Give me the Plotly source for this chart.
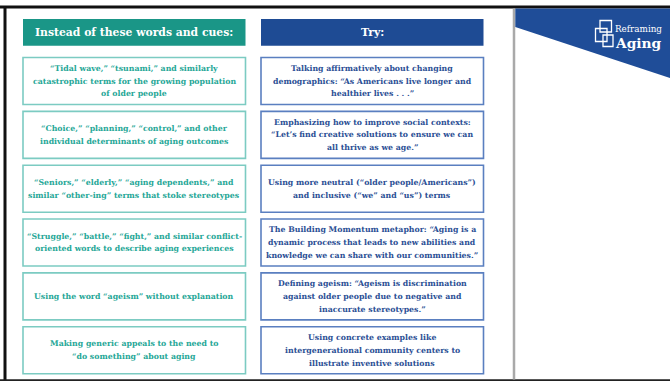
import plotly.graph_objects as go

# ---- content ----
header_left = "Instead of these words and cues:"
header_right = "Try:"
left_items = [
    ["\u201cTidal wave,\u201d \u201ctsunami,\u201d and similarly",
     "catastrophic terms for the growing population",
     "of older people"],
    ["\u201cChoice,\u201d \u201cplanning,\u201d \u201ccontrol,\u201d and other",
     "individual determinants of aging outcomes"],
    ["\u201cSeniors,\u201d \u201celderly,\u201d \u201caging dependents,\u201d and",
     "similar \u201cother-ing\u201d terms that stoke stereotypes"],
    ["\u201cStruggle,\u201d \u201cbattle,\u201d \u201cfight,\u201d and similar conflict-",
     "oriented words to describe aging experiences"],
    ["Using the word \u201cageism\u201d without explanation"],
    ["Making generic appeals to the need to",
     "\u201cdo something\u201d about aging"],
]
right_items = [
    ["Talking affirmatively about changing",
     "demographics: \u201cAs Americans live longer and",
     "healthier lives . . .\u201d"],
    ["Emphasizing how to improve social contexts:",
     "\u201cLet\u2019s find creative solutions to ensure we can",
     "all thrive as we age.\u201d"],
    ["Using more neutral (\u201colder people/Americans\u201d)",
     "and inclusive (\u201cwe\u201d and \u201cus\u201d) terms"],
    ["The Building Momentum metaphor: \u201cAging is a",
     "dynamic process that leads to new abilities and",
     "knowledge we can share with our communities.\u201d"],
    ["Defining ageism: \u201cAgeism is discrimination",
     "against older people due to negative and",
     "inaccurate stereotypes.\u201d"],
    ["Using concrete examples like",
     "intergenerational community centers to",
     "illustrate inventive solutions"],
]
logo_top = "Reframing"
logo_bottom = "Aging"

# ---- styling / layout constants ----
W, H = 670, 381
TEAL = "#1a9687"
TEAL_BORDER = "#7ccbc2"
TEAL_TEXT = "#26a797"
BLUE = "#1e4b94"
BLUE_BORDER = "#5a7fc0"
BLUE_TEXT = "#2b4f95"
FONT = "DejaVu Serif"

LX0, LX1 = 23, 245.5
RX0, RX1 = 261, 483.5
HY0, HY1 = 19, 45.7
BOX_TOP0 = 57.5
BOX_STEP = 53.85
BOX_H = 47
LINE_GAP = 12.8

shapes = []
annotations = []

# outer slide border
shapes.append(dict(type="line", x0=0, x1=W, y0=7, y1=7, line=dict(color="#111111", width=3)))
shapes.append(dict(type="line", x0=5, x1=5, y0=6, y1=H, line=dict(color="#111111", width=3)))
shapes.append(dict(type="line", x0=0, x1=W, y0=380.3, y1=380.3, line=dict(color="#222222", width=2)))
shapes.append(dict(type="line", x0=514, x1=514, y0=8.5, y1=379.5, line=dict(color="#a9a9a9", width=2.5)))

# blue triangle corner
shapes.append(dict(type="path", path="M 515.3 8.5 L 670 8.5 L 670 78 L 515.3 27 Z",
                   fillcolor="#1f4d98", line=dict(width=0)))

# logo icon squares
for (a, b, c, d) in [(600, 20.5, 611.5, 32), (595.5, 28.5, 607, 41.5), (603, 35, 613, 46.5)]:
    shapes.append(dict(type="rect", x0=a, x1=c, y0=b, y1=d,
                       line=dict(color="white", width=1.3), fillcolor="rgba(0,0,0,0)"))
annotations.append(dict(x=613, y=28.5, text=logo_top, showarrow=False, xanchor="left", yanchor="middle",
                        font=dict(family=FONT, size=8.8, color="white")))
annotations.append(dict(x=612.5, y=42.5, text=logo_bottom, showarrow=False, xanchor="left", yanchor="middle",
                        font=dict(family=FONT, size=13.8, color="white", weight="bold")))

# headers
shapes.append(dict(type="rect", x0=LX0, x1=LX1, y0=HY0, y1=HY1, fillcolor=TEAL, line=dict(width=0)))
shapes.append(dict(type="rect", x0=RX0, x1=RX1, y0=HY0, y1=HY1, fillcolor=BLUE, line=dict(width=0)))
annotations.append(dict(x=(LX0 + LX1) / 2, y=(HY0 + HY1) / 2 + 0.5, text=header_left, showarrow=False,
                        font=dict(family=FONT, size=10.8, color="white", weight="bold")))
annotations.append(dict(x=(RX0 + RX1) / 2, y=(HY0 + HY1) / 2 + 0.5, text=header_right, showarrow=False,
                        font=dict(family=FONT, size=10.8, color="white", weight="bold")))


def add_column(items, x0, x1, border, color):
    for i, lines in enumerate(items):
        top = BOX_TOP0 + i * BOX_STEP
        shapes.append(dict(type="rect", x0=x0, x1=x1, y0=top, y1=top + BOX_H,
                           line=dict(color=border, width=1.6), fillcolor="white"))
        cy = top + BOX_H / 2
        n = len(lines)
        for j, t in enumerate(lines):
            y = cy + (j - (n - 1) / 2) * LINE_GAP
            annotations.append(dict(x=(x0 + x1) / 2, y=y, text=t, showarrow=False,
                                    xanchor="center", yanchor="middle",
                                    font=dict(family=FONT, size=7.8, color=color, weight="bold")))


add_column(left_items, LX0, LX1, TEAL_BORDER, TEAL_TEXT)
add_column(right_items, RX0, RX1, BLUE_BORDER, BLUE_TEXT)

for a in annotations:
    a.setdefault("xref", "x")
    a.setdefault("yref", "y")
for s in shapes:
    s.setdefault("xref", "x")
    s.setdefault("yref", "y")
    s.setdefault("layer", "above")

fig = go.Figure()
fig.update_layout(
    width=W, height=H,
    margin=dict(l=0, r=0, t=0, b=0, pad=0),
    paper_bgcolor="white", plot_bgcolor="white",
    xaxis=dict(range=[0, W], visible=False, fixedrange=True),
    yaxis=dict(range=[H, 0], visible=False, fixedrange=True),
    shapes=shapes, annotations=annotations, showlegend=False,
)
fig.write_html("out.html", config={"displayModeBar": False},
               post_script="document.body.style.margin='0px';document.body.style.overflow='hidden';")
